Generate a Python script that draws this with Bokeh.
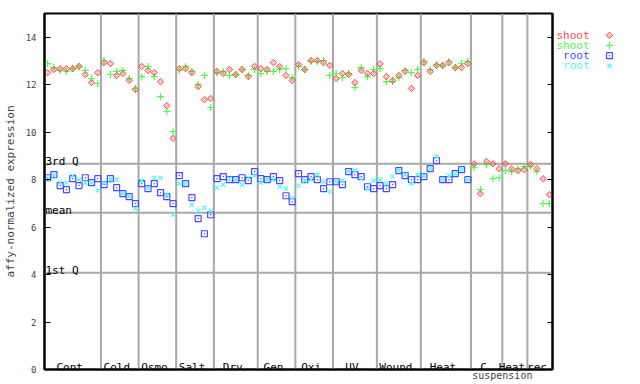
import numpy as np
from bokeh.plotting import figure
from bokeh.models import Span, LinearAxis, FixedTicker, Range1d
from bokeh.layouts import row
from bokeh.embed import file_html
from bokeh.resources import INLINE
from bokeh.core.properties import value

# ---------------- data ----------------
groups = ["Cont", "Cold", "Osmo", "Salt", "Dry", "Gen", "Oxi", "UV", "Wound", "Heat", "C", "Heat", "rec"]
group_sizes = [9, 6, 6, 6, 7, 6, 6, 7, 7, 8, 5, 4, 4]

shoot_red = [
    12.51, 12.64, 12.67, 12.68, 12.67, 12.77, 12.43, 12.09, 12.51,
    12.93, 12.89, 12.39, 12.47, 12.18, 11.80,
    12.77, 12.60, 12.51, 12.13, 11.12, 9.74,
    12.68, 12.68, 12.51, 11.92, 11.37, 11.42,
    12.56, 12.47, 12.64, 12.43, 12.64, 12.34, 12.77,
    12.68, 12.64, 12.93, 12.77, 12.39, 12.18,
    12.85, 12.64, 13.02, 13.02, 12.93, 12.81,
    12.26, 12.47, 12.43, 12.09, 12.60, 12.47, 12.47,
    12.88, 12.34, 12.18, 12.39, 12.56, 11.84, 12.39,
    12.93, 12.56, 12.81, 12.81, 12.93, 12.72, 12.72, 12.89,
    8.67, 7.41, 8.76, 8.67, 8.46,
    8.67, 8.46, 8.38, 8.42,
    8.64, 8.46, 8.04, 7.37,
]
shoot_green = [
    12.89, 12.72, 12.60, 12.56, 12.68, 12.77, 12.60, 12.26, 12.05,
    13.02, 12.43, 12.56, 12.60, 12.26, 11.84,
    12.34, 12.77, 12.34, 11.50, 10.87, 10.02,
    12.60, 12.77, 12.56, 12.01, 12.39, 11.04,
    12.51, 12.56, 12.39, 12.43, 12.64, 12.39, 12.64,
    12.47, 12.56, 12.56, 12.64, 12.68, 12.30,
    12.77, 12.64, 12.98, 12.98, 13.02, 12.39,
    12.47, 12.30, 12.47, 11.88, 12.72, 12.34, 12.64,
    12.68, 12.13, 12.13, 12.30, 12.60, 12.51, 12.64,
    12.98, 12.64, 12.85, 12.81, 12.98, 12.72, 12.89, 12.98,
    8.51, 7.58, 8.63, 8.04, 8.08,
    8.38, 8.34, 8.46, 8.55,
    8.55, 8.34, 6.99, 6.99,
]
root_blue = [
    8.08, 8.21, 7.75, 7.58, 8.04, 7.75, 8.08, 7.87, 8.04,
    7.79, 8.04, 7.66, 7.41, 7.28, 6.99,
    7.83, 7.62, 7.83, 7.45, 7.28, 6.99,
    8.17, 7.83, 7.24, 6.36, 5.72, 6.52,
    8.04, 8.13, 8.00, 8.00, 8.08, 7.96, 8.34,
    8.04, 8.00, 8.13, 7.96, 7.32, 7.07,
    8.25, 8.00, 8.13, 8.00, 7.62, 7.91,
    7.91, 7.79, 8.34, 8.21, 8.13, 7.70, 7.62,
    7.75, 7.62, 7.79, 8.38, 8.17, 8.00, 8.00,
    8.13, 8.46, 8.80, 8.00, 8.00, 8.25, 8.42, 8.00,
]
root_cyan = [
    8.04, 8.17, 7.87, 7.87, 8.17, 8.00, 7.87, 7.87, 7.54,
    7.87, 8.00, 8.00, 7.41, 7.28, 6.78,
    7.96, 7.66, 8.08, 8.08, 7.37, 6.52,
    7.83, 7.83, 6.95, 6.69, 6.82, 6.69,
    7.66, 7.79, 8.04, 8.00, 7.79, 8.08, 8.17,
    7.87, 8.00, 8.00, 7.70, 7.62, 7.24,
    7.75, 7.96, 8.00, 8.21, 7.91, 7.49,
    7.91, 7.96, 8.34, 8.38, 8.04, 7.62, 7.96,
    8.00, 7.83, 8.13, 8.38, 8.21, 7.83, 8.21,
    8.17, 8.46, 8.97, 8.00, 8.17, 8.25, 8.42, 8.00,
]
quartile_names = ["1st Q", "mean", "3rd Q"]
quartile_values = [4.08, 6.60, 8.67]
y_ticks = [0, 2, 4, 6, 8, 10, 12, 14]
legend_labels = ["shoot", "shoot", "root", "root"]
sub_label = "suspension"

# ---------------- styles ----------------
RED, GREEN, BLUE, CYAN = "#ff4a4a", "#4aff4a", "#4a4aff", "#4affff"
GRAY = "#a8a8a8"
MONO = "DejaVu Sans Mono"
H = 384

n = len(shoot_red)
x_all = np.arange(1, n + 1)
x_root = np.arange(1, len(root_blue) + 1)
sizes = np.array(group_sizes)
bounds = np.cumsum(sizes)
centers = bounds - (sizes - 1) / 2.0

p = figure(width=556, height=H, x_range=Range1d(0.5, n + 0.5), y_range=Range1d(0, 15),
           output_backend="svg", toolbar_location=None, x_axis_location=None,
           min_border_left=44, min_border_right=4, min_border_top=13, min_border_bottom=15)
p.xgrid.visible = False
p.ygrid.visible = False
p.outline_line_color = "black"
p.outline_line_width = 2
p.background_fill_color = "white"
p.border_fill_color = "white"

ya = p.yaxis[0]
ya.ticker = FixedTicker(ticks=y_ticks)
ya.major_tick_in = 6
ya.major_tick_out = 0
ya.minor_tick_line_color = None
ya.axis_line_width = 2
ya.major_tick_line_width = 1
ya.major_label_text_font = MONO
ya.major_label_text_font_size = "9px"
ya.major_label_standoff = 8
ya.axis_label = "affy-normalized expression"
ya.axis_label_text_font = MONO
ya.axis_label_text_font_size = "11px"
ya.axis_label_text_font_style = "normal"
ya.axis_label_standoff = 6

ra = LinearAxis(ticker=FixedTicker(ticks=y_ticks), major_tick_in=5, major_tick_out=0,
                minor_tick_line_color=None, major_label_overrides={t: "" for t in y_ticks},
                major_label_standoff=0, axis_line_width=2)
p.add_layout(ra, "right")

# bottom axis only carries the second line of the "C suspension" group label
sub_pos = float(bounds[10] + 0.5)
xa = LinearAxis(ticker=FixedTicker(ticks=[sub_pos]), major_label_overrides={sub_pos: sub_label},
                major_tick_in=0, major_tick_out=0, minor_tick_line_color=None,
                axis_line_color="black", axis_line_width=2, major_label_standoff=0,
                major_label_text_font=MONO, major_label_text_font_size="10px")
p.add_layout(xa, "below")

for b in bounds[:-1]:
    p.add_layout(Span(location=b + 0.5, dimension="height", line_color=GRAY, line_width=2, level="underlay"))
for qv in quartile_values:
    p.add_layout(Span(location=qv, dimension="width", line_color=GRAY, line_width=2, level="underlay"))

p.text(x=[0.5] * len(quartile_values), y=quartile_values, text=quartile_names,
       text_font=value(MONO), text_font_size="11px", text_color="black",
       text_align="left", text_baseline="alphabetic", x_offset=1, y_offset=-2)

p.text(x=centers, y=[0] * len(groups), text=groups, text_font=value(MONO),
       text_font_size="11px", text_color="black", text_align="center",
       text_baseline="alphabetic", x_offset=-3, y_offset=-2)

p.scatter(x_root, root_blue, marker="square_dot", size=6, line_color=BLUE, fill_color=None, line_width=1.2)
p.scatter(x_root, root_cyan, marker="x", size=6, line_color=CYAN, line_width=1.2)
p.scatter(x_all, shoot_green, marker="cross", size=7, line_color=GREEN, line_width=1.2)
p.scatter(x_all, shoot_red, marker="square", angle=np.pi / 4, size=4.5, line_color=RED,
          fill_color=RED, fill_alpha=0.3, line_width=1)

# ---------------- legend panel ----------------
q = figure(width=640 - 556, height=H, x_range=Range1d(0, 640 - 556), y_range=Range1d(H, 0),
           output_backend="svg", toolbar_location=None, x_axis_location=None, y_axis_location=None,
           min_border=0, outline_line_color=None)
q.xgrid.visible = False
q.ygrid.visible = False
q.background_fill_color = "white"
q.border_fill_color = "white"
colors = [RED, GREEN, BLUE, CYAN]
ly = [23.5 + 11 * i for i in range(len(legend_labels))]
q.text(x=[33] * 4, y=ly, text=legend_labels, text_color=colors, text_font=value(MONO),
       text_font_size="11px", text_align="right", text_baseline="middle")
q.scatter([53], [ly[0]], marker="square", angle=np.pi / 4, size=4.5, line_color=RED,
          fill_color=RED, fill_alpha=0.3, line_width=1)
q.scatter([53], [ly[1]], marker="cross", size=7, line_color=GREEN, line_width=1.2)
q.scatter([53], [ly[2]], marker="square_dot", size=6, line_color=BLUE, fill_color=None, line_width=1.2)
q.scatter([53], [ly[3]], marker="x", size=6, line_color=CYAN, line_width=1.2)

layout = row(p, q)
open("out.html", "w").write(file_html(layout, INLINE))
